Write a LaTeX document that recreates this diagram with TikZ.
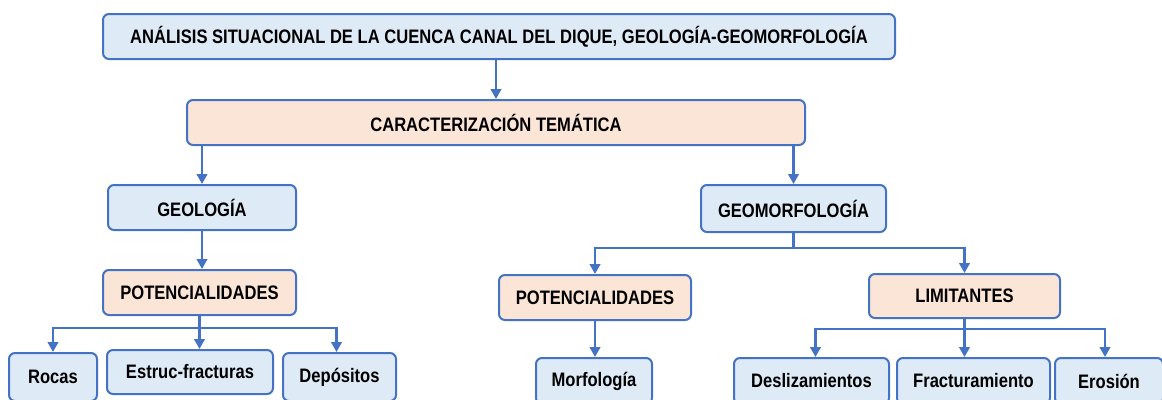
\documentclass[tikz,border=0pt]{standalone}
\usepackage{fontspec}
\setmainfont{Liberation Sans}[FakeStretch=0.85]
\usetikzlibrary{arrows.meta,calc}
\definecolor{bfill}{HTML}{DEEBF7}
\definecolor{ofill}{HTML}{FBE5D6}
\definecolor{edge}{HTML}{4472C4}
\begin{document}
\begin{tikzpicture}[x=1pt,y=-1pt,
  box/.style={draw=edge,line width=2pt,rounded corners=6pt,inner sep=0pt,
     font=\bfseries\fontsize{19.5}{22}\selectfont,text=black,anchor=center},
  bbox/.style={box,fill=bfill},
  obox/.style={box,fill=ofill},
  arr/.style={draw=edge,line width=2.8pt,-{Triangle[length=10pt,width=10.5pt]}},
  ln/.style={draw=edge,line width=2.8pt}]
\useasboundingbox (0,0) rectangle (1162,399);
\node[bbox,minimum width=792pt,minimum height=45pt] (top) at (499,36.5) {ANÁLISIS SITUACIONAL DE LA CUENCA CANAL DEL DIQUE, GEOLOGÍA-GEOMORFOLOGÍA};
\node[obox,minimum width=618pt,minimum height=45pt] (car) at (496,122.5) {CARACTERIZACIÓN TEMÁTICA};
\node[bbox,minimum width=188pt,minimum height=45pt] (geo) at (202,207.5) {GEOLOGÍA};
\node[obox,minimum width=193pt,minimum height=45pt] (potL) at (199.5,292.5) {POTENCIALIDADES};
\node[bbox,minimum width=88pt,minimum height=48pt] (rocas) at (53,377) {Rocas};
\node[bbox,minimum width=166pt,minimum height=44pt] (estruc) at (190,372) {Estruc-fracturas};
\node[bbox,minimum width=113pt,minimum height=48pt] (depo) at (339.5,377) {Depósitos};
\node[bbox,minimum width=185pt,minimum height=47pt] (geom) at (793.5,208.5) {GEOMORFOLOGÍA};
\node[obox,minimum width=192pt,minimum height=45pt] (potR) at (595,297.5) {POTENCIALIDADES};
\node[obox,minimum width=191pt,minimum height=44pt] (lim) at (964.5,296) {LIMITANTES};
\node[bbox,minimum width=116pt,minimum height=46pt] (morf) at (594,381) {Morfología};
\node[bbox,minimum width=155pt,minimum height=46pt] (desl) at (811.5,381) {Deslizamientos};
\node[bbox,minimum width=153pt,minimum height=46pt] (frac) at (973.5,381) {Fracturamiento};
\node[bbox,minimum width=108pt,minimum height=46pt] (eros) at (1109,381) {Erosión};
% connectors
\draw[arr] (top.south -| car.north) -- (car.north);
\draw[arr] (car.south -| geo.north) -- (geo.north);
\draw[arr] (car.south -| geom.north) -- (geom.north);
\draw[arr] (geo.south) -- (geo.south |- potL.north);
% left potencialidades branch
\coordinate (bL) at ($(potL.south)+(0,12)$);
\draw[arr] (potL.south) -- (potL.south |- estruc.north);
\draw[arr] (bL) -| (rocas.north);
\draw[arr] (bL) -| ($(depo.north)+(-3,0)$);
% geomorfologia branch
\coordinate (bG) at ($(geom.south)+(0,15)$);
\draw[ln] (geom.south) -- (bG);
\draw[arr] (bG) -| (potR.north);
\draw[arr] (bG) -| (lim.north);
\draw[arr] (potR.south) -- (potR.south |- morf.north);
% limitantes branch
\coordinate (bR) at ($(lim.south)+(0,10)$);
\draw[arr] (lim.south) -- (lim.south |- frac.north);
\draw[arr] (bR) -| ($(desl.north)+(4,0)$);
\draw[arr] (bR) -| ($(eros.north)+(-4,0)$);
\end{tikzpicture}
\end{document}
